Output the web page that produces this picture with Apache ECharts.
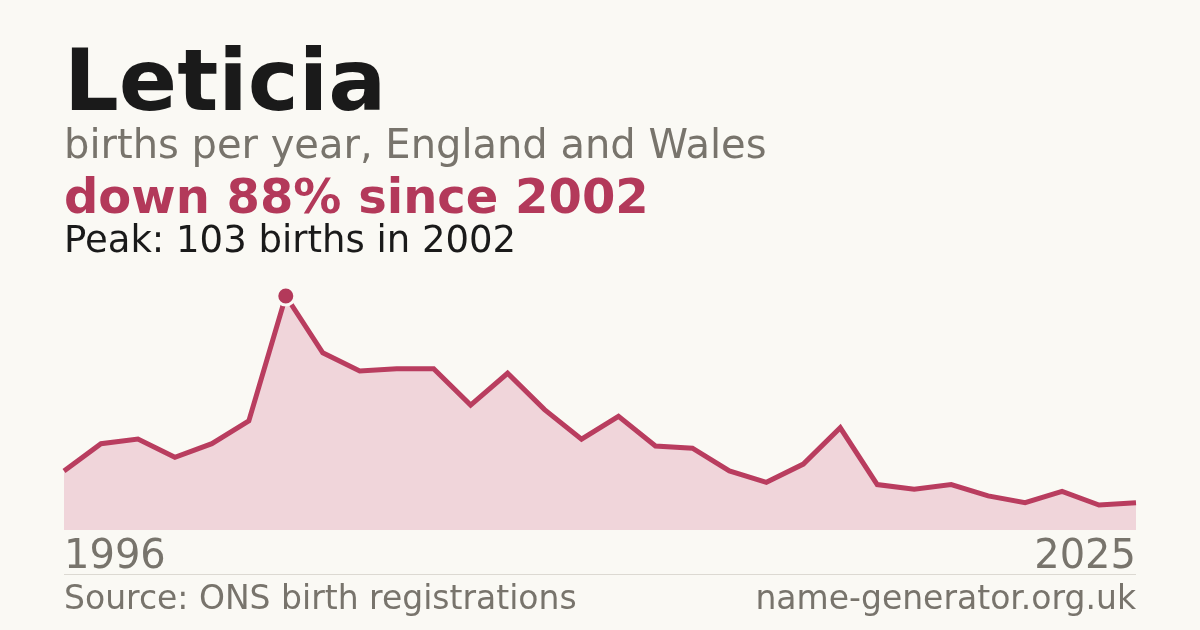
<!DOCTYPE html>
<html>
<head>
<meta charset="utf-8">
<script src="https://cdn.jsdelivr.net/npm/echarts@6/dist/echarts.min.js"></script>
<style>
html,body{margin:0;padding:0;background:#faf9f4;}
#c{width:1200px;height:630px;}
</style>
</head>
<body>
<div id="c"></div>
<script>
const years = [1996,1997,1998,1999,2000,2001,2002,2003,2004,2005,2006,2007,2008,2009,2010,2011,2012,2013,2014,2015,2016,2017,2018,2019,2020,2021,2022,2023,2024,2025];
const births = [26,38,40,32,38,48,103,78,70,71,71,55,69,53,40,50,37,36,26,21,29,45,20,18,20,15,12,17,11,12];
const titleText = 'Leticia';
const subtitleText = 'births per year, England and Wales';
const highlightText = 'down 88% since 2002';
const peakText = 'Peak: 103 births in 2002';
const sourceText = 'Source: ONS birth registrations';
const siteText = 'name-generator.org.uk';

const peakVal = Math.max(...births);
const peakIdx = births.indexOf(peakVal);
const FONT = 'DejaVu Sans';
const chart = echarts.init(document.getElementById('c'));
chart.setOption({
  backgroundColor: '#faf9f4',
  animation: false,
  grid: {left: 64, right: 64, top: 296, bottom: 100, containLabel: false},
  xAxis: {
    type: 'category', data: years.map(String), boundaryGap: false,
    axisLine: {show: false}, axisTick: {show: false}, splitLine: {show: false},
    axisLabel: {
      interval: (i) => i === 0 || i === years.length - 1,
      color: '#78746c', fontFamily: FONT, fontSize: 40, margin: 8,
      alignMinLabel: 'left', alignMaxLabel: 'right'
    }
  },
  yAxis: {type: 'value', min: 0, max: peakVal, show: false, splitLine: {show: false}},
  series: [
    {
      type: 'line', data: births, symbol: 'none', z: 2,
      lineStyle: {color: '#b93d5f', width: 5, join: 'miter'},
      areaStyle: {color: '#f0d5da', opacity: 1}
    },
    {
      type: 'scatter', z: 5,
      data: [[peakIdx, peakVal]],
      symbol: 'circle', symbolSize: 18,
      itemStyle: {color: '#b3395a', borderColor: '#faf9f4', borderWidth: 3, opacity: 1}
    }
  ],
  graphic: [
    {type: 'text', left: 64, top: 45, style: {text: titleText, font: 'bold 86px "DejaVu Sans"', fill: '#1a1a1a'}},
    {type: 'text', left: 64, top: 128, style: {text: subtitleText, font: '40px "DejaVu Sans"', fill: '#78746c'}},
    {type: 'text', left: 64, top: 177, style: {text: highlightText, font: 'bold 48px "DejaVu Sans"', fill: '#b3395a'}},
    {type: 'text', left: 64, top: 224, style: {text: peakText, font: '37px "DejaVu Sans"', fill: '#1a1a1a'}},
    {type: 'line', shape: {x1: 64, y1: 574.5, x2: 1136, y2: 574.5}, style: {stroke: '#dcd9d2', lineWidth: 1}},
    {type: 'text', left: 64, top: 584, style: {text: sourceText, font: '33px "DejaVu Sans"', fill: '#78746c'}},
    {type: 'text', right: 64, top: 584, style: {text: siteText, font: '33px "DejaVu Sans"', fill: '#78746c'}}
  ]
});
</script>
</body>
</html>
